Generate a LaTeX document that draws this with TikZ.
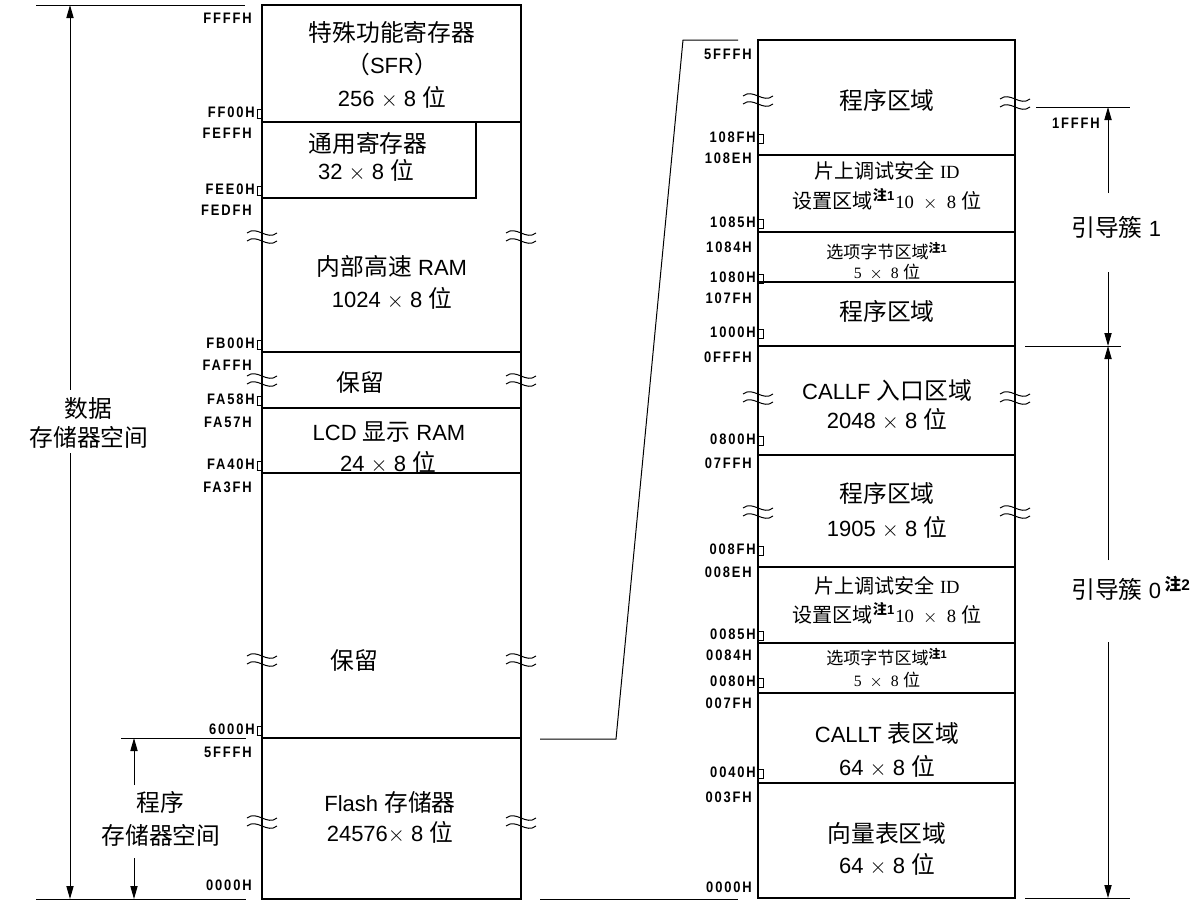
\documentclass[tikz,border=0pt]{standalone}
\usepackage{fontspec}
\usepackage{tikz}
\usetikzlibrary{arrows.meta}
\setmainfont{Liberation Sans}
\newfontfamily\zhfont[Scale=1.08]{Noto Sans CJK SC}
\newfontfamily\serfont{Liberation Serif}
\newfontfamily\addrfont[LetterSpace=12,FakeStretch=0.85]{Liberation Sans}
\newcommand\zh[1]{{\zhfont #1}}
\newcommand\nt[1]{\textsuperscript{\bfseries\zh{注}#1}}
\newcommand\mk{\kern1pt{\setlength\fboxsep{0pt}\setlength\fboxrule{0.4pt}\fbox{\rule{0pt}{4pt}\hspace{2.2pt}}}}

\begin{document}
\begin{tikzpicture}[x=0.5pt,y=-0.5pt,
  addr/.style={font=\addrfont\bfseries\fontsize{7.6}{8}\selectfont, inner sep=0pt, anchor=east},
  txt/.style={font=\fontsize{11}{13}\selectfont, inner sep=0pt},
  midtxt/.style={font=\fontsize{9.3}{11}\selectfont, inner sep=0pt},
  notetxt/.style={font=\fontsize{7.9}{9}\selectfont, inner sep=0pt},
  dim/.style={-{Triangle[length=6.5pt,width=3.6pt]}, line width=0.5pt},
  sep/.style={line width=0.6pt},
  brk/.style={line width=0.5pt}]
\useasboundingbox (0,0) rectangle (1197,900);

% Data memory map (left)
\draw[line width=1pt] (262,5) rectangle (521,899);
\foreach \ly in {122,352,408,473,738} \draw[sep] (262,\ly) -- (521,\ly);
\draw[sep] (476,122) -- (476,198) -- (262,198);

% Program area map (right)
\draw[line width=1pt] (758,40) rectangle (1015,898);
\foreach \ly in {155,232,282,346,455,567,643,693,783} \draw[sep] (758,\ly) -- (1015,\ly);

% Break marks
\foreach \bx/\by in {262/237,521/237,262/380,521/380,262/660,521/660,262/822,521/822,
                     758/100,1015/103,758/398,1015/398,758/512,1015/512}{
  \draw[brk] (\bx-15,\by-4) .. controls (\bx-5,\by-12) and (\bx+5,\by+4) .. (\bx+15,\by-4);
  \draw[brk] (\bx-15,\by+4) .. controls (\bx-5,\by-4) and (\bx+5,\by+12) .. (\bx+15,\by+4);
}

% Zoom lines between the maps
\coordinate (zl) at (540,739);
\coordinate (zk) at (616,739);
\coordinate (zt) at (683,40);
\coordinate (zr) at (738,40);
\coordinate (zbl) at (540,899);
\coordinate (zbr) at (738,899);
\draw[line width=0.5pt] (zl) -- (zk) -- (zt) -- (zr);
\draw[line width=0.5pt] (zbl) -- (zbr);

% Addresses, left map
\foreach \ay/\at [count=\i] in {18/FFFFH,133/FEFFH,210/FEDFH,365/FAFFH,422/FA57H,487/FA3FH,752/5FFFH,885/0000H}
  \node[addr] (la\i) at (252,\ay) {\at};
\foreach \ay/\at [count=\i] in {113/FF00H,190/FEE0H,344/FB00H,400/FA58H,465/FA40H,730/6000H}
  \node[addr] (lb\i) at (263,\ay) {\at\mk};

% Addresses, right map
\foreach \ay/\at [count=\i] in {54/5FFFH,158/108EH,247/1084H,298/107FH,357/0FFFH,463/07FFH,572/008EH,655/0084H,703/007FH,797/003FH,887/0000H}
  \node[addr] (ra\i) at (752,\ay) {\at};
\foreach \ay/\at [count=\i] in {138/108FH,223/1085H,278/1080H,333/1000H,440/0800H,550/008FH,635/0085H,682/0080H,773/0040H}
  \node[addr] (rb\i) at (764,\ay) {\at\mk};

% Left map contents
\node[txt] (sfr1) at (392,32) {\zh{特殊功能寄存器}};
\node[txt] (sfr2) at (392,64) {\zh{（}SFR\zh{）}};
\node[txt] (sfr3) at (392,97) {256 $\times$ 8 \zh{位}};
\node[txt] (gpr1) at (368,143) {\zh{通用寄存器}};
\node[txt] (gpr2) at (366,170) {32 $\times$ 8 \zh{位}};
\node[txt] (ram1) at (392,266) {\zh{内部高速} RAM};
\node[txt] (ram2) at (392,298) {1024 $\times$ 8 \zh{位}};
\node[txt] (rsv1) at (360,382) {\zh{保留}};
\node[txt] (lcd1) at (389,432) {LCD \zh{显示} RAM};
\node[txt] (lcd2) at (388,462) {24 $\times$ 8 \zh{位}};
\node[txt] (rsv2) at (354,660) {\zh{保留}};
\node[txt] (fls1) at (390,802) {Flash \zh{存储器}};
\node[txt] (fls2) at (390,832) {24576$\times$ 8 \zh{位}};

% Space ranges, left
\draw (36,5) -- (245,5);
\draw (121,738) -- (246,738);
\draw (36,899) -- (246,899);
\node[txt] (dat1) at (88,408) {\zh{数据}};
\node[txt] (dat2) at (89,437) {\zh{存储器空间}};
\coordinate (dtop) at (70,5);
\coordinate (dbot) at (70,899);
\coordinate (dgapt) at (70,390);
\coordinate (dgapb) at (70,453);
\draw[dim] (dgapt) -- (dtop);
\draw[dim] (dgapb) -- (dbot);
\node[txt] (prg1) at (160,802) {\zh{程序}};
\node[txt] (prg2) at (161,835) {\zh{存储器空间}};
\coordinate (ptop) at (134,738);
\coordinate (pbot) at (134,899);
\coordinate (pgapt) at (134,785);
\coordinate (pgapb) at (134,858);
\draw[dim] (pgapt) -- (ptop);
\draw[dim] (pgapb) -- (pbot);

% Right map contents
\node[txt] (pa1) at (887,100) {\zh{程序区域}};
\node[midtxt] (od1) at (887,171) {\zh{片上调试安全} {\serfont ID}};
\node[midtxt] (od2) at (887,199) {\zh{设置区域}\nt{1}{\serfont 10 ~$\times$~ 8} \zh{位}};
\node[notetxt] (ob1) at (887,251) {\zh{选项字节区域}\nt{1}};
\node[notetxt] (ob2) at (887,272) {{\serfont 5 ~$\times$~ 8} \zh{位}};
\node[txt] (pa2) at (887,311) {\zh{程序区域}};
\node[txt] (cf1) at (887,390) {CALLF \zh{入口区域}};
\node[txt] (cf2) at (887,419) {2048 $\times$ 8 \zh{位}};
\node[txt] (pa3) at (887,493) {\zh{程序区域}};
\node[txt] (pa4) at (887,527) {1905 $\times$ 8 \zh{位}};
\node[midtxt] (od3) at (887,586) {\zh{片上调试安全} {\serfont ID}};
\node[midtxt] (od4) at (887,613) {\zh{设置区域}\nt{1}{\serfont 10 ~$\times$~ 8} \zh{位}};
\node[notetxt] (ob3) at (887,657) {\zh{选项字节区域}\nt{1}};
\node[notetxt] (ob4) at (887,680) {{\serfont 5 ~$\times$~ 8} \zh{位}};
\node[txt] (ct1) at (887,733) {CALLT \zh{表区域}};
\node[txt] (ct2) at (887,766) {64 $\times$ 8 \zh{位}};
\node[txt] (vt1) at (887,833) {\zh{向量表区域}};
\node[txt] (vt2) at (887,864) {64 $\times$ 8 \zh{位}};

% Boot clusters
\draw (1036,107) -- (1130,107);
\draw (1025,346) -- (1121,346);
\draw (1025,898) -- (1130,898);
\node[addr] (b1adr) at (1100,123) {1FFFH};
\node[txt, anchor=west] (boot1) at (1071,227) {\zh{引导簇} 1};
\node[txt, anchor=west] (boot0) at (1071,588) {\zh{引导簇} 0\,\nt{2}};
\coordinate (btop) at (1108,107);
\coordinate (bmid) at (1108,346);
\coordinate (bbot) at (1108,898);
\coordinate (b1gapt) at (1108,193);
\coordinate (b1gapb) at (1108,272);
\coordinate (b0gapt) at (1108,560);
\coordinate (b0gapb) at (1108,642);
\draw[dim] (b1gapt) -- (btop);
\draw[dim] (b1gapb) -- (bmid);
\draw[dim] (b0gapt) -- (bmid);
\draw[dim] (b0gapb) -- (bbot);

\end{tikzpicture}
\end{document}
